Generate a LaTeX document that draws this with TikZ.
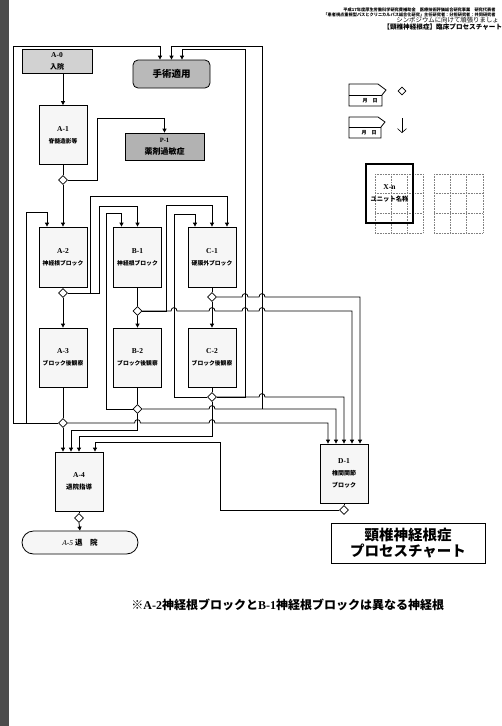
\documentclass[tikz,border=0pt]{standalone}
\usepackage{fontspec}
\setmainfont{Liberation Serif}
\newfontfamily\jp{Noto Sans CJK JP}
\usetikzlibrary{arrows.meta,shapes.geometric}
\newcommand{\bl}[2]{{\bfseries\fontsize{7.5}{9}\selectfont #1}\\{\jp\bfseries\fontsize{5.8}{7}\selectfont #2}}
\tikzset{
  hop/.style 2 args={insert path={-- ({#1-3},#2) .. controls ({#1-3},{#2-4.5}) and ({#1+3},{#2-4.5}) .. ({#1+3},#2)}}
}
\begin{document}
\begin{tikzpicture}[x=1pt,y=-1pt,line width=0.8pt,
  blk/.style={draw,fill=gray!7,minimum width=48pt,minimum height=59pt,inner sep=0pt,align=center,line width=0.8pt},
  dia/.style={draw,diamond,fill=white,minimum width=9pt,minimum height=9pt,inner sep=0pt,line width=0.8pt},
  arr/.style={-{Triangle[length=4pt,width=4pt]}},
  grd/.style={densely dotted,gray,line width=0.6pt}]
\useasboundingbox (0,0) rectangle (502,726);
\fill[white] (0,0) rectangle (502,726);
\fill[black!70] (0,0) rectangle (9,726);

% header
\node[anchor=west,inner sep=0pt,font=\jp\bfseries\fontsize{4.2}{5}\selectfont] (h1) at (343,10) {平成17年度厚生労働科学研究費補助金　医療技術評価総合研究事業　研究代表者};
\node[anchor=west,inner sep=0pt,font=\jp\bfseries\fontsize{4.2}{5}\selectfont] (h2) at (323,15) {「患者視点重視型パスとクリニカルパス総合化研究」主任研究者：分担研究者：共同研究者};
\node[anchor=west,inner sep=0pt,font=\jp\fontsize{6.4}{7}\selectfont] (h3) at (396,20.5) {シンポジウムに向けて頑張りましょ};
\node[anchor=west,inner sep=0pt,font=\jp\bfseries\fontsize{6.6}{7}\selectfont] (h4) at (383,27) {【頸椎神経根症】臨床プロセスチャート};

% boxes
\node[blk,fill=gray!35,minimum width=70pt,minimum height=24pt] (a0) at (57,61) {\bl{A-0}{\fontsize{7}{8}\selectfont 入院}};
\node[blk,fill=gray!55,rounded corners=5pt,minimum width=77pt,minimum height=28pt,font=\jp\bfseries\fontsize{9.5}{10}\selectfont] (ope) at (171.5,74) {手術適用};
\node[blk] (a1) at (63,135) {\bl{A-1}{脊髄造影等}};
\node[blk,fill=gray!60,minimum width=79pt,minimum height=27pt] (p1) at (164.5,146.5) {{\bfseries\fontsize{6.5}{8}\selectfont P-1}\\{\jp\bfseries\fontsize{8}{9}\selectfont 薬剤過敏症}};
\node[blk,minimum height=60pt] (a2) at (63,257) {\bl{A-2}{神経根ブロック}};
\node[blk,minimum height=60pt] (b1) at (137.5,257) {\bl{B-1}{神経根ブロック}};
\node[blk,minimum height=60pt] (c1) at (212,257) {\bl{C-1}{硬膜外ブロック}};
\node[blk] (a3) at (63,357.5) {\bl{A-3}{ブロック後観察}};
\node[blk] (b2) at (137.5,357.5) {\bl{B-2}{ブロック後観察}};
\node[blk] (c2) at (212,357.5) {\bl{C-2}{ブロック後観察}};
\node[blk] (a4) at (79,481.5) {\bl{A-4}{\fontsize{6.5}{8}\selectfont 退院指導}};
\node[blk] (d1) at (344,473.5) {{\bfseries\fontsize{7.5}{9}\selectfont D-1}\\{\jp\bfseries\fontsize{6}{7.5}\selectfont 椎間関節}\\{\jp\bfseries\fontsize{6}{7.5}\selectfont ブロック}};
\node[draw,fill=gray!7,rounded corners=11.5pt,minimum width=116pt,minimum height=23pt,inner sep=0pt,font=\fontsize{7.5}{8}\selectfont] (a5) at (80,542.5) {\textit{A-5} {\jp\bfseries 退　院}};

% diamonds
\node[dia] (dA1) at (63,180) {};
\node[dia] (dA2) at (63,293) {};
\node[dia] (dB1) at (137.5,311) {};
\node[dia] (dC1) at (212,297) {};
\node[dia] (dA3) at (63,423) {};
\node[dia] (dB2) at (137.5,409) {};
\node[dia] (dC2) at (212,397) {};
\node[dia] (dA4) at (79,518) {};
\node[dia] (dD1) at (344,510) {};
\coordinate (jB2) at (262,409);

% connectors
\draw[arr] (a1.north |- a0.south) -- (a1.north);
\draw (a1.south) -- (dA1.north);
\draw[arr] (dA1.south) -- (a2.north);
\draw[arr] (dA1.east) -| (97,118) -| (p1.north);
\draw (a2.south) -- (dA2.north);
\draw[arr] (dA2.south) -- (a3.north);
\draw[arr] (dA2.east) -| (99,206) -| (b1.north);
\draw[arr] (dA2.east) -| (90,196) -| ([xshift=15pt]c1.north);
\draw (a3.south) -- (dA3.north);
\draw[arr] (dA3.west) -| (13,46) -| ([xshift=-11.5pt]ope.north);
\draw[arr] (dA3.west) -| (26,212) -| ([xshift=-16pt]a2.north);
\draw[arr] (dA3.east) [hop={137.5}{423}] [hop={212}{423}] -- (328,423) -- ([xshift=-16pt]d1.north);
\draw[arr] (dA3.south) -- ([xshift=-16pt]a4.north);
\draw (b1.south) -- (dB1.north);
\draw[arr] (dB1.south) -- (b2.north);
\draw[arr] (dB1.east) -| (166,205) -| (c1.north);
\draw[arr] (dB1.east) -- (166,311) [hop={174}{311}] [hop={212}{311}] [hop={245}{311}] [hop={262}{311}] -- (352,311) -- ([xshift=8pt]d1.north);
\draw (c1.south) -- (dC1.north);
\draw[arr] (dC1.south) -- (c2.north);
\draw[arr] (dC1.east) [hop={245}{297}] [hop={262}{297}] -- (360,297) -- ([xshift=16pt]d1.north);
\draw (b2.south) -- (dB2.north);
\draw[arr] (dB2.west) -| (106,213) -| ([xshift=-16pt]b1.north);
\draw[arr] (dB2.east) [hop={212}{409}] -- (336,409) -- ([xshift=-8pt]d1.north);
\draw[arr] (jB2) -- (262,46) -| (ope.north);
\draw[arr] (dB2.south) -- (137.5,430) -| ([xshift=-8pt]a4.north);
\draw (c2.south) -- (dC2.north);
\draw[arr] (dC2.west) -| (174,214) -| ([xshift=-17pt]c1.north);
\draw[arr] (dC2.east) -- (245,397) -- (245,49) -| ([xshift=10.5pt]ope.north);
\draw[arr] (dC2.east) [hop={262}{397}] -- (344,397) -- (d1.north);
\draw[arr] (dC2.south) -- (212,436) -| (a4.north);
\draw (d1.south) -- (dD1.north);
\draw[arr] (dD1.west) -| (220,442) -| ([xshift=16pt]a4.north);
\draw (a4.south) -- (dA4.north);
\draw[arr] (dA4.south) -- (a5.north);

% legend
\draw (349,84) -- (378,84) -- (386,90) -- (382,95) -- (382,106) -- (349,106) -- cycle;
\draw (349,95) -- (382,95);
\node[font=\jp\bfseries\fontsize{5}{6}\selectfont,inner sep=0pt] (lt1) at (370,101) {月　日};
\node[dia,minimum width=8pt,minimum height=8pt] (ldia) at (402,91) {};
\draw (349,117) -- (378,117) -- (385,122) -- (381,127) -- (381,138) -- (349,138) -- cycle;
\draw (349,127) -- (381,127);
\node[font=\jp\bfseries\fontsize{5}{6}\selectfont,inner sep=0pt] (lt2) at (369,133) {月　日};
\draw[line width=0.6pt,-{Straight Barb[length=4pt,width=9pt]}] (402,118) -- (402,133);

% unit grids
\foreach \i in {0,1,2,3} {
  \draw[grd] ({375+16*\i},174) -- ({375+16*\i},233);
  \draw[grd] (375,{174+19.67*\i}) -- (423,{174+19.67*\i});
  \draw[grd] ({434+16.33*\i},174) -- ({434+16.33*\i},233);
  \draw[grd] (434,{174+19.67*\i}) -- (483,{174+19.67*\i});
}
\node[draw,line width=1.3pt,minimum width=47pt,minimum height=59pt,inner sep=0pt,align=center] (xn) at (389.5,193.5) {{\bfseries\fontsize{7.5}{9}\selectfont X-n}\\{\jp\bfseries\fontsize{6.3}{7}\selectfont ユニット名称}};

% title and note
\node[draw,minimum width=154pt,minimum height=40pt,align=center,inner sep=0pt,font=\jp\bfseries\fontsize{14.5}{16.5}\selectfont] (title) at (408,543) {頸椎神経根症\\プロセスチャート};
\node[anchor=west,inner sep=0pt,font=\jp\bfseries\fontsize{12}{13}\selectfont] (note) at (131,605) {※{\rmfamily\bfseries A-2}神経根ブロックと{\rmfamily\bfseries B-1}神経根ブロックは異なる神経根};
\end{tikzpicture}
\end{document}
